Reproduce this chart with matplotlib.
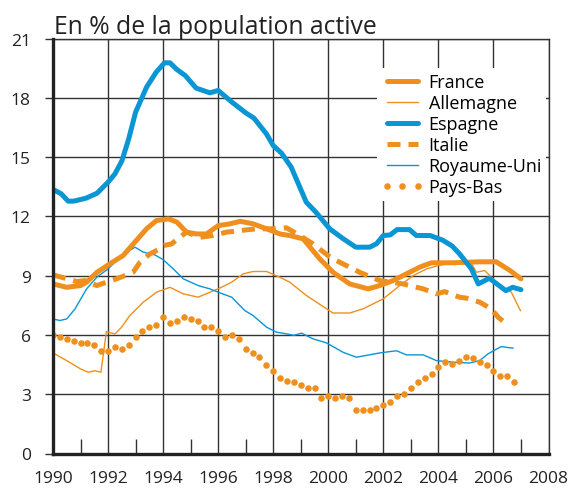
import matplotlib
matplotlib.use("Agg")
import matplotlib.pyplot as plt
from matplotlib.ticker import MultipleLocator

plt.rcParams['font.family'] = ['Open Sans', 'DejaVu Sans']

ORANGE = '#EE8F1E'
BLUE = '#0A95D5'

title = "En % de la population active"

france_x = [1990.0, 1990.5, 1991.0, 1991.22, 1991.6, 1992.07, 1992.55, 1992.85, 1993.4, 1993.76,
            1994.2, 1994.5, 1994.85, 1995.22, 1995.58, 1996.0, 1996.42, 1996.8, 1997.27, 1997.76,
            1998.24, 1998.6, 1999.09, 1999.69, 2000.17, 2000.78, 2001.45, 2001.87, 2002.35, 2002.84,
            2003.32, 2003.75, 2004.5, 2005.5, 2006.1, 2006.6, 2007.0]
france_y = [8.58, 8.41, 8.5, 8.67, 9.17, 9.6, 10.02, 10.5, 11.37, 11.79,
            11.87, 11.71, 11.2, 11.11, 11.11, 11.53, 11.62, 11.75, 11.62, 11.37,
            11.11, 11.03, 10.86, 9.85, 9.17, 8.58, 8.33, 8.5, 8.75, 9.09,
            9.43, 9.65, 9.65, 9.7, 9.7, 9.26, 8.84]

allemagne_x = [1990.0, 1990.5, 1991.0, 1991.28, 1991.52, 1991.74, 1991.94, 1992.25, 1992.49, 1992.79,
               1993.28, 1993.76, 1994.25, 1994.73, 1995.27, 1995.7, 1996.06, 1996.49, 1996.91, 1997.27,
               1997.76, 1998.24, 1998.6, 1999.21, 2000.17, 2000.78, 2001.26, 2001.99, 2002.6, 2003.08,
               2003.57, 2003.99, 2004.4, 2005.2, 2005.38, 2005.68, 2006.22, 2006.65, 2006.98]
allemagne_y = [5.09, 4.7, 4.28, 4.11, 4.19, 4.11, 6.17, 6.05, 6.39, 6.98,
               7.66, 8.16, 8.41, 8.08, 7.91, 8.16, 8.37, 8.67, 9.09, 9.21,
               9.21, 8.92, 8.67, 7.99, 7.11, 7.11, 7.32, 7.82, 8.5, 9.0,
               9.34, 9.51, 9.62, 9.62, 9.17, 9.26, 8.5, 8.16, 7.23]

espagne_x = [1990.0, 1990.3, 1990.55, 1990.75, 1991.2, 1991.6, 1992.0, 1992.25, 1992.5, 1992.75,
             1993.0, 1993.4, 1993.75, 1994.05, 1994.25, 1994.5, 1994.8, 1995.2, 1995.7, 1996.0,
             1996.5, 1997.0, 1997.3, 1997.75, 1998.0, 1998.3, 1998.65, 1999.2, 1999.55, 2000.05,
             2000.55, 2001.0, 2001.5, 2001.75, 2002.0, 2002.25, 2002.5, 2002.95, 2003.2, 2003.7,
             2004.15, 2004.5, 2004.77, 2005.2, 2005.45, 2005.85, 2006.45, 2006.7, 2007.0]
espagne_y = [13.36, 13.14, 12.77, 12.77, 12.92, 13.17, 13.73, 14.15, 14.8, 15.92,
             17.27, 18.54, 19.3, 19.77, 19.77, 19.43, 19.13, 18.49, 18.25, 18.37,
             17.78, 17.24, 16.97, 16.18, 15.58, 15.2, 14.5, 12.72, 12.21, 11.37,
             10.86, 10.44, 10.44, 10.61, 11.03, 11.06, 11.33, 11.33, 11.03, 11.03,
             10.8, 10.5, 10.1, 9.34, 8.58, 8.87, 8.24, 8.41, 8.29]

italie_x = [1990.0, 1990.44, 1990.86, 1991.16, 1991.59, 1991.95, 1992.31, 1992.61, 1992.91, 1993.16,
            1993.52, 1993.88, 1994.0, 1994.3, 1994.6, 1994.85, 1995.33, 1995.82, 1996.3, 1996.79,
            1997.39, 1998.0, 1998.48, 1998.97, 1999.45, 2000.1, 2001.14, 2001.87, 2002.72, 2003.45,
            2003.93, 2004.23, 2004.77, 2005.02, 2005.5, 2005.92, 2006.17, 2006.37]
italie_y = [9.04, 8.87, 8.7, 8.75, 8.5, 8.67, 8.84, 9.0, 9.17, 9.68,
            10.1, 10.35, 10.52, 10.6, 10.94, 11.2, 10.94, 11.03, 11.2, 11.28,
            11.37, 11.37, 11.42, 11.03, 10.6, 9.9, 9.17, 8.75, 8.58, 8.33,
            8.08, 8.19, 7.91, 7.86, 7.66, 7.32, 6.9, 6.67]

ru_x = [1990.0, 1990.25, 1990.5, 1990.8, 1991.22, 1991.59, 1992.0, 1992.43, 1992.67, 1992.98,
        1993.28, 1993.7, 1994.0, 1994.37, 1994.73, 1995.27, 1995.7, 1996.06, 1996.49, 1996.97,
        1997.27, 1997.76, 1998.12, 1998.5, 1998.75, 1999.03, 1999.45, 1999.93, 2000.54, 2001.02,
        2001.87, 2002.48, 2002.84, 2003.45, 2003.93, 2004.53, 2005.13, 2005.5, 2005.8, 2006.28, 2006.71]
ru_y = [6.81, 6.73, 6.81, 7.32, 8.33, 8.92, 9.34, 9.93, 10.19, 10.44,
        10.19, 10.05, 9.81, 9.34, 8.84, 8.5, 8.33, 8.13, 7.91, 7.23,
        6.98, 6.39, 6.14, 6.05, 5.98, 6.09, 5.8, 5.6, 5.12, 4.87,
        5.09, 5.2, 4.99, 4.99, 4.7, 4.62, 4.58, 4.7, 5.04, 5.41, 5.33]

pb_x = [1990 + 0.25 * i for i in range(68)]
pb_y = [6.02, 5.92, 5.80, 5.68, 5.60, 5.60, 5.49, 5.19, 5.19, 5.41,
        5.29, 5.49, 5.88, 6.20, 6.39, 6.51, 6.90, 6.59, 6.71, 6.90,
        6.81, 6.73, 6.39, 6.39, 6.22, 5.88, 6.00, 5.80, 5.29, 5.09,
        4.87, 4.50, 4.19, 3.81, 3.69, 3.60, 3.49, 3.30, 3.30, 2.81,
        2.90, 2.81, 2.90, 2.80, 2.19, 2.19, 2.19, 2.29, 2.47, 2.59,
        2.90, 3.01, 3.30, 3.60, 3.81, 4.03, 4.40, 4.62, 4.52, 4.70,
        4.89, 4.82, 4.62, 4.50, 4.19, 3.91, 3.91, 3.60]

xticks = [1990, 1992, 1994, 1996, 1998, 2000, 2002, 2004, 2006, 2008]
yticks = [0, 3, 6, 9, 12, 15, 18, 21]

fig = plt.figure(figsize=(5.69, 4.89), dpi=100)
ax = fig.add_axes([53 / 569, 1 - 454.5 / 489, 495.5 / 569, 415 / 489])

ax.set_xlim(1990, 2008)
ax.set_ylim(0, 21)
ax.set_xticks(xticks)
ax.set_yticks(yticks)
ax.xaxis.set_minor_locator(MultipleLocator(1))
ax.grid(True, which='major', color='#333333', linewidth=1.0, zorder=0)
ax.set_axisbelow(True)

ax.tick_params(axis='y', which='major', direction='out', length=6, width=1.0,
               color='#333333', labelsize=12.5, pad=10, labelcolor='#222222')
ax.tick_params(axis='x', which='major', direction='in', length=0, labelsize=12.5,
               pad=12, labelcolor='#222222')
ax.tick_params(axis='x', which='minor', direction='in', length=11, width=1.0, color='#333333')

for s in ['top', 'right']:
    ax.spines[s].set_linewidth(1.0)
    ax.spines[s].set_color('#333333')
for s in ['left', 'bottom']:
    ax.spines[s].set_linewidth(2.4)
    ax.spines[s].set_color('#222222')
    ax.spines[s].set_zorder(5)

ax.plot(allemagne_x, allemagne_y, color=ORANGE, lw=1.0, label='Allemagne', zorder=3)
ax.plot(ru_x, ru_y, color=BLUE, lw=1.0, label='Royaume-Uni', zorder=3)
ax.plot(italie_x, italie_y, color=ORANGE, lw=3.6, dashes=(2.6, 1.6), dash_capstyle='butt',
        label='Italie', zorder=3)
ax.plot(pb_x, pb_y, color=ORANGE, ls='none', marker='o', ms=4.7, mew=0,
        label='Pays-Bas', zorder=3)
ax.plot(france_x, france_y, color=ORANGE, lw=3.6, solid_capstyle='round',
        solid_joinstyle='round', label='France', zorder=4)
ax.plot(espagne_x, espagne_y, color=BLUE, lw=3.6, solid_capstyle='round',
        solid_joinstyle='round', label='Espagne', zorder=4)

handles, labels = ax.get_legend_handles_labels()
order = ['France', 'Allemagne', 'Espagne', 'Italie', 'Royaume-Uni', 'Pays-Bas']
hmap = dict(zip(labels, handles))
leg = ax.legend([hmap[k] for k in order], order, loc='upper left',
                bbox_to_anchor=(0.654, 0.928), fontsize=13, frameon=True,
                fancybox=False, framealpha=1, facecolor='white', edgecolor='none',
                handlelength=2.3, handletextpad=0.3, labelspacing=0.17,
                borderpad=0.25, borderaxespad=0, numpoints=3)
leg.set_zorder(6)

fig.text(54 / 569, 1 - 28 / 489, title, fontsize=17.8, ha='left', va='center', color='#222222')

fig.savefig('out.png', dpi=100)
